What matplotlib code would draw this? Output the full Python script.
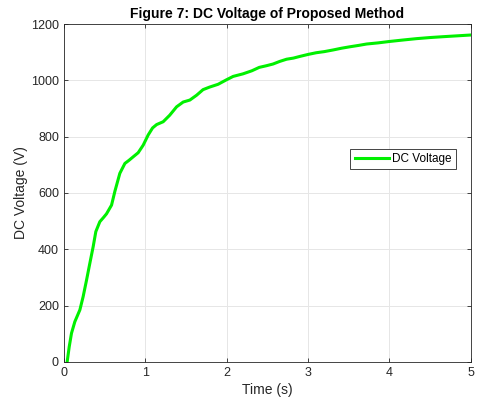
import matplotlib
matplotlib.use("Agg")
import matplotlib.pyplot as plt

plt.rcParams['font.family'] = ['Liberation Sans', 'DejaVu Sans']

# values
time_s = [0.041, 0.066, 0.094, 0.135, 0.197, 0.237, 0.279, 0.319, 0.36, 0.393,
          0.442, 0.49, 0.524, 0.586, 0.627, 0.688, 0.75, 0.80, 0.85, 0.913,
          0.975, 1.036, 1.09, 1.14, 1.22, 1.30, 1.385, 1.466, 1.548, 1.63,
          1.71, 1.79, 1.895, 1.998, 2.08, 2.2, 2.31, 2.40, 2.49, 2.57, 2.65,
          2.736, 2.82, 2.9, 3.0, 3.10, 3.2, 3.31, 3.41, 3.51, 3.62, 3.72,
          3.86, 4.0, 4.16, 4.33, 4.5, 4.66, 4.83, 5.0]
dc_voltage = [1, 54, 102, 143, 185, 232, 291, 350, 409, 463,
              498, 514, 526, 557, 606, 670, 705, 716, 728, 743,
              770, 806, 831, 843, 853, 876, 906, 923, 930, 947,
              967, 976, 986, 1002, 1014, 1023, 1034, 1046, 1052, 1058, 1067,
              1075, 1079, 1085, 1092, 1098, 1102, 1108, 1114, 1119, 1124, 1129,
              1133, 1138, 1143, 1148, 1152, 1155, 1158, 1161]

x_ticks = [0, 1, 2, 3, 4, 5]
y_ticks = [0, 200, 400, 600, 800, 1000, 1200]

fig = plt.figure(figsize=(4.8, 4.07), dpi=100)
ax = fig.add_axes([0.133, 0.1106, 0.848, 0.8304])

ax.plot(time_s, dc_voltage, color='#00f000', lw=2.2, label='DC Voltage',
        solid_joinstyle='round')

ax.set_xlim(0, 5)
ax.set_ylim(0, 1200)
ax.set_xticks(x_ticks)
ax.set_yticks(y_ticks)
ax.grid(True, color='#e6e6e6', lw=0.7)
ax.set_axisbelow(True)
ax.tick_params(direction='in', length=3, top=True, right=True,
               labelsize=9, colors='#262626', width=0.6)
for s in ax.spines.values():
    s.set_color('#262626')
    s.set_linewidth(0.6)

ax.set_xlabel('Time (s)', fontsize=10, color='#262626', labelpad=3)
ax.set_ylabel('DC Voltage (V)', fontsize=10, color='#262626', labelpad=2)
ax.set_title('Figure 7: DC Voltage of Proposed Method', fontsize=10,
             fontweight='bold', color='#000000', pad=4)

leg = ax.legend(loc='center right', bbox_to_anchor=(0.978, 0.6), fontsize=8.5,
                fancybox=False, framealpha=1, edgecolor='#262626',
                handlelength=2.9, borderpad=0.35, handletextpad=0.3)
leg.get_frame().set_linewidth(0.6)

fig.savefig('out.png', dpi=100)
